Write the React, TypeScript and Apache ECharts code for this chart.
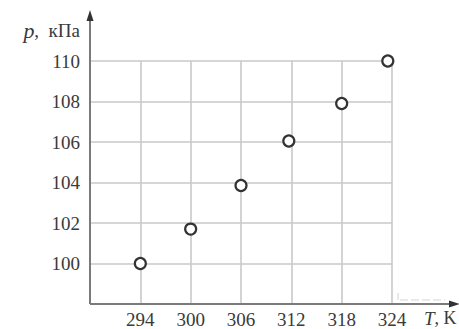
import React, { useEffect, useRef } from "react";
import * as echarts from "echarts";

const temperatures = [294, 300, 306, 311.7, 318, 323.5];
const pressures = [100, 101.7, 103.85, 106.05, 107.9, 110];
const xTicks = { min: 288, max: 324, interval: 6 };
const yTicks = { min: 98, max: 110, interval: 2 };
const yName = "{i|p},  кПа";
const xName = "{i|T}, K";

const W = 459;
const H = 329;
const G = { left: 90, top: 61, right: 67, bottom: 25 };
const FONT = "Liberation Serif";

export default function App() {
  const ref = useRef<HTMLDivElement>(null);
  useEffect(() => {
    if (!ref.current) return;
    const chart = echarts.init(ref.current, null, { renderer: "svg" });
    const ox = G.left;
    const oy = H - G.bottom;
    const axisColor = "#7a7a7a";
    const labelColor = "#3a3a3a";
    chart.setOption({
      animation: false,
      backgroundColor: "#ffffff",
      grid: { left: G.left, top: G.top, right: G.right, bottom: G.bottom, containLabel: false },
      xAxis: {
        type: "value",
        min: xTicks.min,
        max: xTicks.max,
        interval: xTicks.interval,
        axisLine: { show: false },
        axisTick: { show: false },
        splitLine: { show: true, lineStyle: { color: "#c9c9c9", width: 1.6 } },
        axisLabel: {
          margin: 6,
          fontFamily: FONT,
          fontSize: 19,
          color: labelColor,
          formatter: (v: number) => (v === xTicks.min ? "" : String(v)),
        },
      },
      yAxis: {
        type: "value",
        min: yTicks.min,
        max: yTicks.max,
        interval: yTicks.interval,
        axisLine: { show: false },
        axisTick: { show: false },
        splitLine: { show: true, lineStyle: { color: "#c9c9c9", width: 1.6 } },
        axisLabel: {
          margin: 10,
          fontFamily: FONT,
          fontSize: 19,
          color: labelColor,
          padding: [7, 0, 0, 0],
          formatter: (v: number) => (v === yTicks.min ? "" : String(v)),
        },
      },
      series: [
        {
          type: "scatter",
          data: temperatures.map((t, i) => [t, pressures[i]]),
          symbol: "circle",
          symbolSize: 11,
          itemStyle: { color: "#ffffff", borderColor: "#333333", borderWidth: 2.2, opacity: 1 },
          z: 5,
        },
      ],
      graphic: [
        { type: "line", z: 10, shape: { x1: ox, y1: oy, x2: ox, y2: 18 }, style: { stroke: axisColor, lineWidth: 2 } },
        { type: "polygon", z: 10, shape: { points: [[ox, 10], [ox - 3.5, 21], [ox + 3.5, 21]] }, style: { fill: "#333" } },
        { type: "line", z: 10, shape: { x1: ox, y1: oy, x2: 452, y2: oy }, style: { stroke: axisColor, lineWidth: 2 } },
        { type: "polygon", z: 10, shape: { points: [[460, oy], [449, oy - 3.5], [449, oy + 3.5]] }, style: { fill: "#333" } },
        { type: "line", z: 9, shape: { x1: 398, y1: 293, x2: 398, y2: 300 }, style: { stroke: "#d4d4d4", lineWidth: 1 } },
        { type: "line", z: 9, shape: { x1: 400, y1: 300, x2: 445, y2: 300 }, style: { stroke: "#d4d4d4", lineWidth: 1, lineDash: [8, 3] } },
        {
          type: "text",
          z: 10,
          x: 80,
          y: 30,
          style: {
            text: yName,
            align: "right",
            verticalAlign: "middle",
            fontFamily: FONT,
            fontSize: 19,
            fill: labelColor,
            rich: { i: { fontStyle: "italic", fontSize: 22, fontFamily: FONT, fill: labelColor } },
          },
        },
        {
          type: "text",
          z: 10,
          x: 424,
          y: 318,
          style: {
            text: xName,
            align: "left",
            verticalAlign: "middle",
            fontFamily: FONT,
            fontSize: 18,
            fill: labelColor,
            rich: { i: { fontStyle: "italic", fontSize: 19, fontFamily: FONT, fill: labelColor } },
          },
        },
      ],
    });
    return () => chart.dispose();
  }, []);
  return (
    <div
      ref={ref}
      style={{ position: "fixed", left: 0, top: 0, width: W, height: H, background: "#fff" }}
    />
  );
}
